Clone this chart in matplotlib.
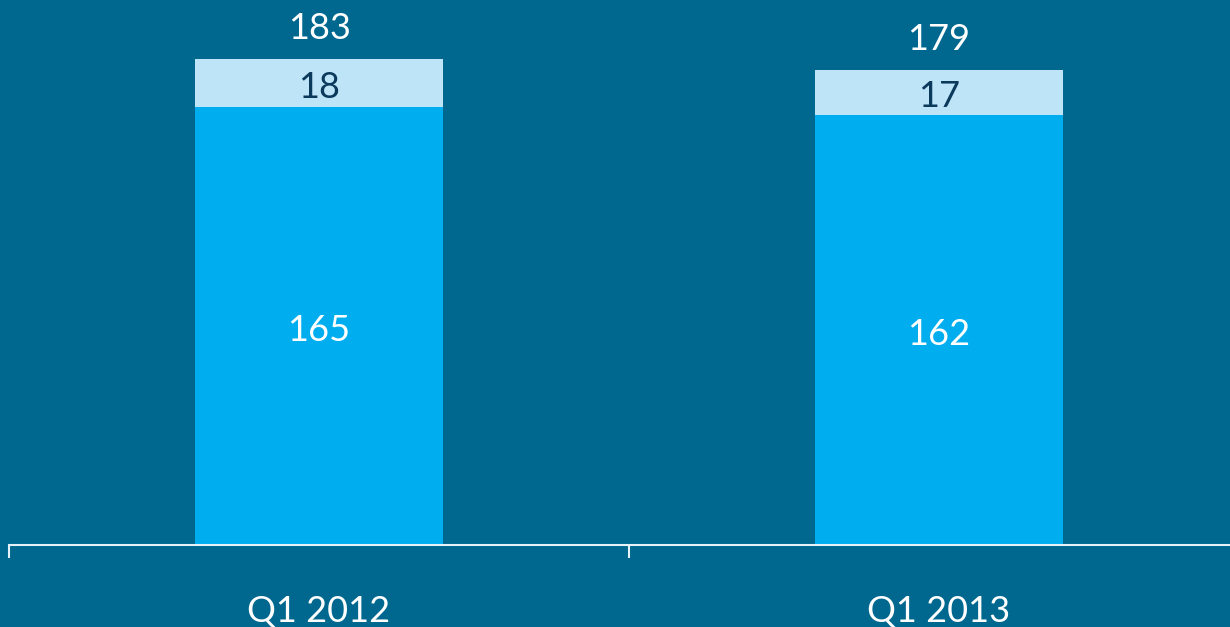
import matplotlib
matplotlib.use("Agg")
import matplotlib.pyplot as plt
import numpy as np

categories = ["Q1 2012", "Q1 2013"]
base_values = [165, 162]
top_values = [18, 17]
totals = [183, 179]

BG = "#00688F"
C_BASE = "#00AEEF"
C_TOP = "#BEE5F7"
FONT = "Lato"

fig = plt.figure(figsize=(12.3, 6.27), dpi=100)
fig.patch.set_facecolor(BG)
ax = fig.add_axes([9/1230, 82/627, 1240/1230, 545/627])
ax.set_facecolor(BG)

x = np.arange(len(categories))
ax.bar(x, base_values, width=0.4, color=C_BASE, linewidth=0)
ax.bar(x, top_values, bottom=base_values, width=0.4, color=C_TOP, linewidth=0)

for i in range(len(categories)):
    ax.annotate(str(base_values[i]), (x[i], base_values[i] / 2), xytext=(0, -3),
                textcoords="offset points", ha="center", va="center",
                color="white", fontsize=26, family=FONT)
    ax.annotate(str(top_values[i]), (x[i], base_values[i] + top_values[i] / 2), xytext=(0, -3),
                textcoords="offset points", ha="center", va="center",
                color="#0B3A5C", fontsize=26, family=FONT)
    ax.annotate(str(totals[i]), (x[i], totals[i]), xytext=(0, 22), textcoords="offset points",
                ha="center", va="center", color="white", fontsize=26, family=FONT)

ax.set_xlim(-0.5, 1.5)
ax.set_ylim(0, 545 / (438 / 165))

for s in ["top", "right", "left"]:
    ax.spines[s].set_visible(False)
ax.spines["bottom"].set_color("#E6F2F8")
ax.spines["bottom"].set_linewidth(1.5)
ax.set_yticks([])
ax.set_xticks(x)
ax.set_xticklabels(categories, family=FONT, fontsize=26, color="white")
ax.tick_params(axis="x", which="major", length=0, pad=36)
ax.set_xticks([-0.5, 0.5, 1.5], minor=True)
ax.tick_params(axis="x", which="minor", length=9.5, width=1.5, color="#E6F2F8", direction="out")

fig.savefig("out.png", dpi=100, facecolor=BG)
